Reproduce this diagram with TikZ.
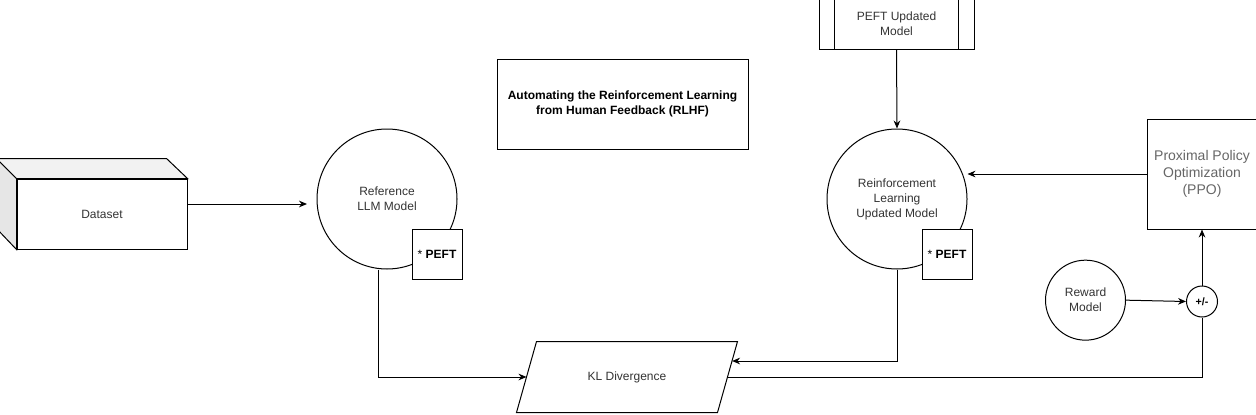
\documentclass[tikz,border=0pt]{standalone}
\usepackage{fontspec}
\setmainfont{Liberation Sans}
\usetikzlibrary{positioning, arrows.meta}

\definecolor{txtgray}{HTML}{333333}
\definecolor{ppogray}{HTML}{666666}
\definecolor{cubeside}{HTML}{E6E6E6}
\definecolor{cubetop}{HTML}{F2F2F2}

\begin{document}
\begin{tikzpicture}[
    x=0.75pt, y=-0.75pt,
    line width=0.75pt,
    node distance=42pt,
    every node/.style={
        font=\fontsize{9}{11.25}\selectfont,
        text=txtgray
    },
    box/.style={
        rectangle,
        draw,
        align=center,
        inner sep=0pt
    },
    model/.style={
        circle,
        draw,
        align=center,
        minimum size=105pt,
        inner sep=0pt
    },
    tag/.style={
        rectangle,
        draw,
        fill=white,
        minimum size=37.5pt,
        inner sep=0pt,
        text=black
    },
    arrow/.style={
        -{Stealth[length=6pt, width=5pt]}
    }
]
\useasboundingbox (0,0) rectangle (1256,414);

% Dataset cube
\node[box, minimum width=127.5pt, minimum height=52.5pt] (dataset) at (102,214) {Dataset};
\filldraw[fill=cubeside] (dataset.north west) -- ++(-20,-20) -- ++(0,70) -- (dataset.south west) -- cycle;
\filldraw[fill=cubetop] (dataset.north west) -- ++(-20,-20) -- ++(170,0) -- (dataset.north east) -- cycle;

% Title
\node[box, minimum width=188.25pt, minimum height=67.5pt,
    font=\bfseries\fontsize{9}{11.25}\selectfont, text=black] (title) at (622.5,104) {
    Automating the Reinforcement Learning\\
    from Human Feedback (RLHF)
};

% Models
\node[model] (refllm) at (387,199) {Reference\\LLM Model};
\node[model] (rlmodel) at (897,199) {Reinforcement\\Learning\\Updated Model};

\node[tag] (refpeft) at (437,254) {* \textbf{PEFT}};
\node[tag] (rlpeft) at (947,254) {* \textbf{PEFT}};

% PEFT updated model
\node[box, minimum width=116.25pt, minimum height=37.5pt] (peftupd) at (896.5,24) {
    PEFT Updated\\
    Model
};
\draw ([xshift=12pt]peftupd.north west) -- ([xshift=12pt]peftupd.south west);
\draw ([xshift=-12pt]peftupd.north east) -- ([xshift=-12pt]peftupd.south east);

% PPO and reward
\node[box, minimum size=82.5pt, font=\fontsize{10.5}{12.75}\selectfont, text=ppogray] (ppo) at (1202,174) {
    Proximal Policy\\
    Optimization\\
    (PPO)
};
\node[circle, draw, minimum size=23.25pt, inner sep=0pt,
    font=\bfseries\fontsize{8}{9}\selectfont, text=black, below=42pt of ppo] (sum) {+/-};
\node[model, minimum size=60pt, left=45pt of sum, yshift=1pt] (reward) {Reward\\Model};

% KL divergence (parallelogram)
\node[rectangle, minimum width=150pt, minimum height=52.5pt, inner sep=0pt] (kl) at (627,377) {KL Divergence};
\draw ([xshift=7.5pt]kl.north west) -- ([xshift=7.5pt]kl.north east)
    -- ([xshift=-7.5pt]kl.south east) -- ([xshift=-7.5pt]kl.south west) -- cycle;

% Arrows
\coordinate (refin) at (307,204);
\coordinate (klin) at ([shift={(4.6,-16)}]kl.east);
\draw[arrow] (dataset.east |- refin) -- (refin);
\draw[arrow] (peftupd.south) -- (rlmodel.north);
\draw[arrow] (ppo.west) -- (ppo.west -| rlmodel.east);

\draw[arrow] ([xshift=-6.75pt]refllm.south) |- (kl.west);
\draw[arrow] (rlmodel.south) |- (klin);
\draw (kl.east) -| (sum.south);

\draw[arrow] (reward.east) -- (sum.west);
\draw[arrow] (sum.north) -- (ppo.south);

\end{tikzpicture}
\end{document}
